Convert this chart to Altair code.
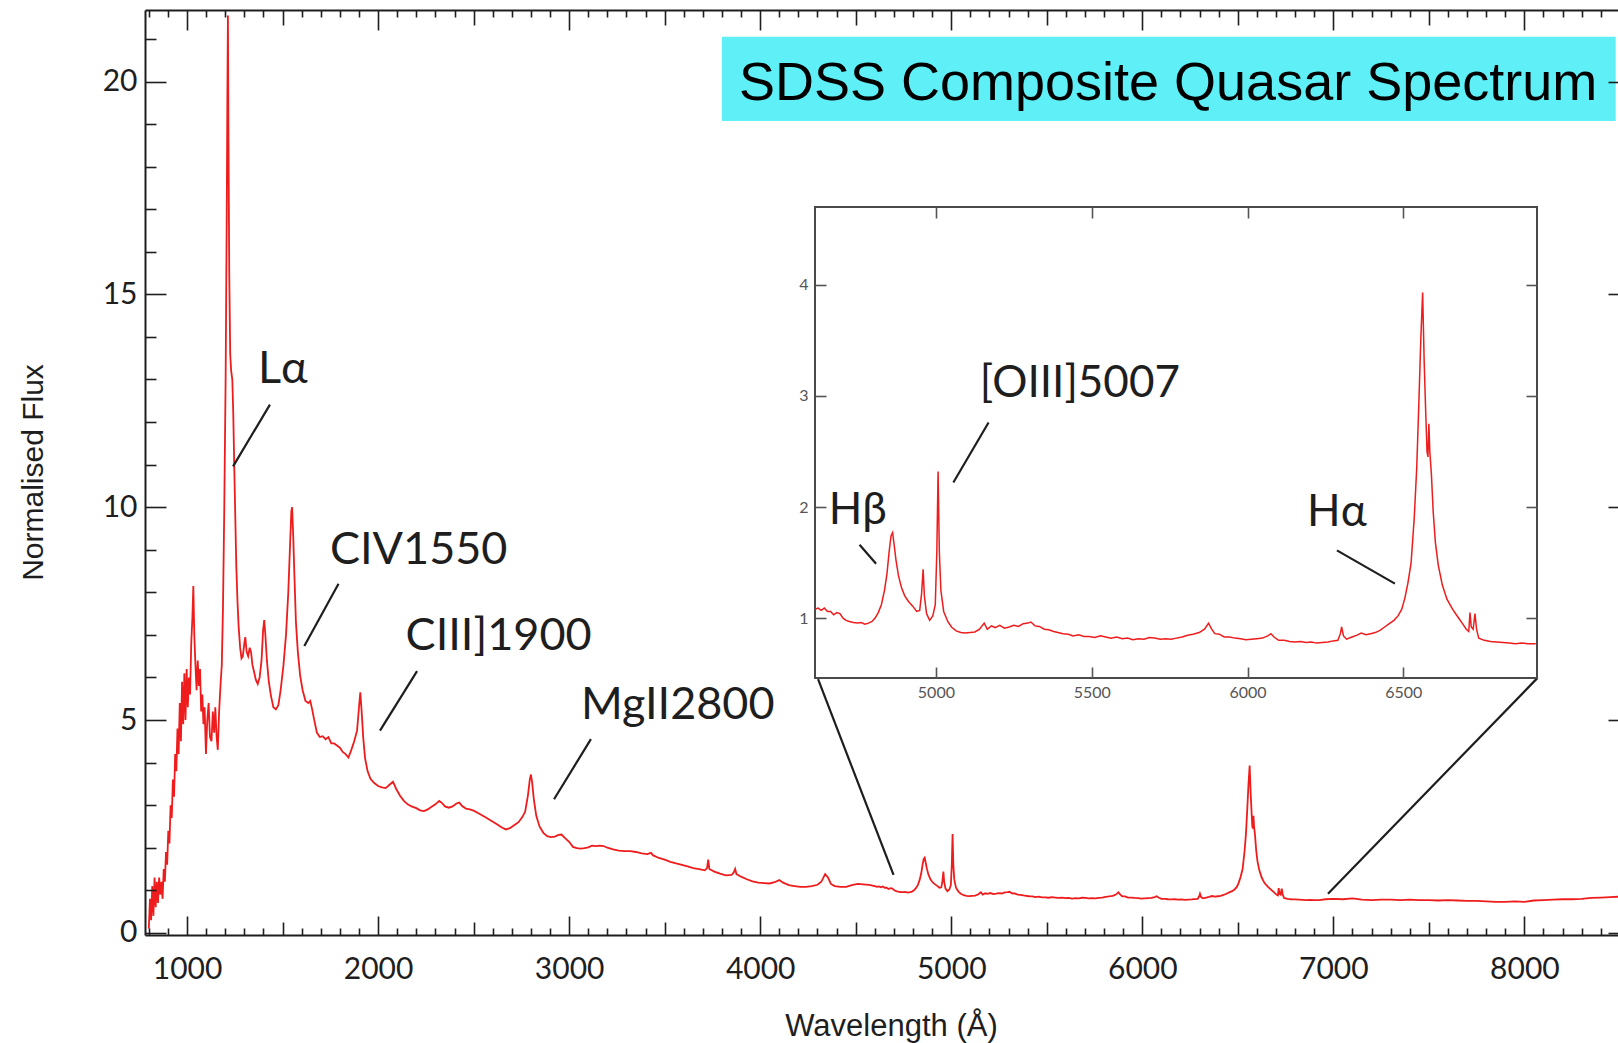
import altair as alt
import pandas as pd

# ---------------------------------------------------------------------------
# Composite quasar spectrum: rest wavelength (Angstrom) and normalised flux
# ---------------------------------------------------------------------------
uv_wavelength = [
    800, 806, 812, 818, 824, 830, 836, 842, 848, 854,
    860, 866, 872, 878, 884, 890, 896, 902, 908, 914,
    920, 926, 932, 938, 944, 950, 956, 962, 968, 974,
    980, 986, 992, 998, 1004, 1010, 1016, 1022, 1028, 1033,
    1038, 1044, 1050, 1056, 1062, 1068, 1074, 1080, 1086, 1092,
    1099, 1106, 1113, 1120, 1128, 1135, 1142, 1148, 1155, 1161,
    1168, 1175, 1182, 1188, 1195,
]
uv_flux = [
    0.1, 0.8, 0.3, 1.1, 0.4, 1.3, 0.6, 1.2, 0.7, 1.3,
    0.9, 1.2, 0.8, 1.5, 1.2, 1.9, 1.6, 2.4, 2.1, 3.0,
    2.7, 3.6, 3.2, 4.2, 3.8, 4.8, 4.2, 5.4, 4.5, 5.9,
    4.9, 6.1, 5.0, 6.2, 5.3, 6.0, 5.6, 6.8, 7.4, 8.15,
    7.0, 6.3, 5.7, 6.4, 5.8, 6.2, 5.2, 5.6, 4.9, 5.3,
    4.2, 5.0, 5.4, 4.6, 4.5, 5.2, 4.7, 5.3, 4.6, 4.3,
    5.2, 5.8, 6.3, 7.6, 10.0,
]

lya_wavelength = [
    1202, 1208, 1211, 1214, 1217, 1221, 1226, 1231, 1237, 1242,
    1247, 1252, 1258, 1264, 1270, 1278, 1285, 1292, 1300, 1305,
    1312, 1320, 1328, 1335, 1342, 1350, 1360, 1370, 1380, 1390,
    1398, 1404, 1410, 1418, 1428, 1440, 1452, 1465, 1478, 1490,
    1505, 1518, 1530, 1540, 1546, 1550, 1556, 1562, 1570, 1580,
    1592, 1605, 1620, 1635, 1645, 1655, 1668, 1680, 1695, 1710,
    1725, 1740, 1755, 1770, 1785, 1800, 1815, 1830, 1845, 1860,
    1875, 1890, 1900, 1907, 1914, 1922, 1932, 1945, 1960, 1980,
]
lya_flux = [
    13.0, 17.0, 19.5, 21.55, 18.6, 15.5, 13.6, 13.2, 13.0, 12.2,
    11.0, 9.9, 8.6, 7.8, 7.2, 6.7, 6.45, 6.5, 6.8, 6.95,
    6.6, 6.5, 6.7, 6.6, 6.3, 6.15, 5.95, 5.85, 6.0, 6.4,
    7.1, 7.35, 7.0, 6.4, 5.9, 5.55, 5.3, 5.25, 5.35, 5.7,
    6.3, 7.0, 8.0, 9.2, 9.9, 10.0, 9.3, 8.4, 7.3, 6.6,
    6.05, 5.7, 5.45, 5.4, 5.45, 5.25, 4.95, 4.7, 4.6, 4.62,
    4.55, 4.6, 4.45, 4.45, 4.4, 4.35, 4.25, 4.2, 4.12, 4.3,
    4.5, 4.75, 5.3, 5.65, 5.2, 4.6, 4.1, 3.8, 3.62, 3.52,
]

nuv_wavelength = [
    2000, 2020, 2040, 2060, 2078, 2095, 2115, 2135, 2155, 2175,
    2200, 2220, 2240, 2260, 2280, 2300, 2320, 2335, 2350, 2370,
    2390, 2410, 2425, 2440, 2460, 2480, 2500, 2530, 2560, 2590,
    2620, 2650, 2670, 2690, 2710, 2735, 2755, 2770, 2785, 2794,
    2800, 2806, 2815, 2828, 2845, 2865, 2885, 2905, 2925, 2945,
    2960, 2980, 3000, 3020, 3040, 3060, 3080, 3100, 3120, 3140,
    3160, 3180, 3200, 3230, 3260, 3290, 3320, 3350, 3380, 3410,
    3428, 3440, 3470, 3500, 3530, 3560, 3590, 3620, 3650, 3680,
    3710, 3722, 3728, 3734, 3760, 3790, 3820, 3850, 3862, 3869,
    3876, 3900, 3930, 3960, 3990, 4020, 4050, 4075, 4100, 4120,
    4150, 4180, 4210, 4240, 4270, 4300, 4320, 4340, 4355, 4370,
    4390, 4420, 4450, 4480, 4510, 4540, 4570, 4600,
]
nuv_flux = [
    3.45, 3.42, 3.4, 3.48, 3.55, 3.38, 3.22, 3.1, 3.02, 2.97,
    2.93, 2.88, 2.86, 2.9, 2.96, 3.02, 3.1, 3.05, 2.97, 2.94,
    2.97, 3.04, 3.06, 2.98, 2.92, 2.9, 2.87, 2.8, 2.72, 2.64,
    2.56, 2.47, 2.43, 2.46, 2.52, 2.6, 2.72, 2.85, 3.25, 3.6,
    3.72, 3.55, 3.15, 2.75, 2.5, 2.35, 2.27, 2.25, 2.26, 2.3,
    2.31, 2.22, 2.14, 2.02, 1.99, 1.98, 1.99, 2.01, 2.05, 2.04,
    2.05, 2.04, 2.0, 1.96, 1.93, 1.92, 1.92, 1.9, 1.87, 1.85,
    1.88, 1.82, 1.76, 1.72, 1.67, 1.63, 1.6, 1.56, 1.52, 1.5,
    1.47, 1.52, 1.72, 1.5, 1.44, 1.39, 1.35, 1.36, 1.42, 1.5,
    1.38, 1.32, 1.26, 1.21, 1.18, 1.17, 1.16, 1.19, 1.24, 1.18,
    1.12, 1.1, 1.08, 1.08, 1.1, 1.13, 1.2, 1.38, 1.3, 1.15,
    1.1, 1.08, 1.08, 1.12, 1.15, 1.14, 1.13, 1.1,
]

optical_wavelength = [
    4612, 4622, 4632, 4642, 4652, 4662, 4672, 4682, 4692, 4702,
    4712, 4722, 4735, 4748, 4760, 4772, 4784, 4795, 4805, 4815,
    4825, 4835, 4843, 4850, 4856, 4861, 4866, 4872, 4880, 4890,
    4900, 4912, 4925, 4938, 4948, 4954, 4959, 4963, 4970, 4980,
    4990, 4998, 5003, 5007, 5011, 5016, 5025, 5038, 5050, 5065,
    5080, 5095, 5110, 5125, 5140, 5155, 5165, 5178, 5190, 5205,
    5220, 5235, 5250, 5265, 5280, 5295, 5305, 5318, 5332, 5348,
    5362, 5378, 5392, 5408, 5425, 5440, 5458, 5475, 5492, 5510,
    5528, 5545, 5562, 5580, 5598, 5615, 5632, 5650, 5668, 5685,
    5702, 5720, 5738, 5755, 5772, 5790, 5808, 5825, 5845, 5862,
    5875, 5885, 5895, 5910, 5925, 5942, 5960, 5978, 5995, 6012,
    6030, 6048, 6065, 6075, 6085, 6100, 6118, 6135, 6152, 6170,
    6188, 6205, 6222, 6240, 6258, 6275, 6290, 6298, 6302, 6308,
    6318, 6335, 6350, 6365, 6380, 6395, 6410, 6425, 6440, 6455,
    6470, 6483, 6495, 6505, 6515, 6525, 6535, 6543, 6550, 6556,
    6562, 6567, 6572, 6576, 6579, 6582, 6585, 6590, 6596, 6603,
    6612, 6625, 6640, 6658, 6675, 6690, 6702, 6710, 6714, 6718,
    6724, 6730, 6735, 6742, 6760, 6780, 6800, 6820, 6840, 6860,
    6880, 6900, 6925,
]
optical_flux = [
    1.08, 1.09, 1.07, 1.09, 1.06, 1.06, 1.03, 1.05, 1.04, 1.0,
    0.98, 0.97, 0.96, 0.955, 0.96, 0.945, 0.955, 0.97, 1.0, 1.05,
    1.12, 1.25, 1.4, 1.6, 1.74, 1.77, 1.66, 1.52, 1.38, 1.27,
    1.2, 1.15, 1.11, 1.06, 1.07, 1.22, 1.44, 1.2, 1.04, 0.98,
    1.02, 1.12, 1.6, 2.32, 1.6, 1.25, 1.06, 0.97, 0.92, 0.885,
    0.87, 0.865, 0.87, 0.875, 0.9, 0.955, 0.9, 0.93, 0.915, 0.935,
    0.91, 0.92, 0.935, 0.925, 0.95, 0.955, 0.965, 0.93, 0.925, 0.9,
    0.895, 0.88, 0.87, 0.86, 0.855, 0.84, 0.85, 0.835, 0.835, 0.825,
    0.84, 0.83, 0.82, 0.83, 0.815, 0.82, 0.805, 0.815, 0.81, 0.825,
    0.82, 0.81, 0.815, 0.81, 0.82, 0.83, 0.845, 0.855, 0.87, 0.9,
    0.955, 0.9, 0.86, 0.855, 0.83, 0.83, 0.82, 0.815, 0.805, 0.81,
    0.815, 0.82, 0.84, 0.86, 0.83, 0.8, 0.8, 0.79, 0.785, 0.79,
    0.78, 0.785, 0.775, 0.78, 0.785, 0.795, 0.8, 0.86, 0.92, 0.84,
    0.81, 0.83, 0.845, 0.865, 0.85, 0.86, 0.87, 0.89, 0.92, 0.95,
    0.98, 1.02, 1.08, 1.18, 1.32, 1.5, 1.9, 2.35, 2.95, 3.5,
    3.93, 3.3, 2.84, 2.5, 2.45, 2.75, 2.5, 2.3, 1.95, 1.68,
    1.48, 1.3, 1.17, 1.08, 1.01, 0.95, 0.9, 0.88, 1.05, 0.92,
    0.9, 1.04, 0.9, 0.82, 0.8, 0.79, 0.785, 0.78, 0.775, 0.77,
    0.775, 0.77, 0.77,
]

red_wavelength = [
    6960, 7000, 7050, 7100, 7150, 7200, 7250, 7300, 7350, 7400,
    7450, 7500, 7550, 7600, 7650, 7700, 7750, 7800, 7850, 7900,
    7950, 8000, 8050, 8100, 8150, 8200, 8250, 8300, 8350, 8400,
    8450, 8500,
]
red_flux = [
    0.79, 0.8, 0.79, 0.81, 0.78, 0.77, 0.78, 0.78, 0.77, 0.78,
    0.77, 0.77, 0.76, 0.77, 0.76, 0.75, 0.75, 0.74, 0.73, 0.73,
    0.74, 0.73, 0.76, 0.77, 0.78, 0.79, 0.79, 0.8, 0.82, 0.83,
    0.84, 0.85,
]

# Emission-line labels on the full spectrum (text anchor + leader line ends)
main_line_names = ["L\u03b1", "CIV1550", "CIII]1900", "MgII2800"]
main_label_wl = [1371, 1748, 2144, 3062]
main_label_flux = [12.92, 8.67, 6.65, 5.02]
main_leader_wl = [1434, 1793, 2204, 3114]
main_leader_flux = [12.41, 8.20, 6.15, 4.55]
main_leader_wl2 = [1241, 1614, 2010, 2921]
main_leader_flux2 = [10.96, 6.74, 4.75, 3.14]

# Emission-line labels inside the zoomed panel
inset_line_names = ["[OIII]5007", "H\u03b2", "H\u03b1"]
inset_label_wl = [5141, 4656, 6191]
inset_label_flux = [2.99, 1.85, 1.83]
inset_leader_wl = [5169, 4755, 6287]
inset_leader_flux = [2.76, 1.66, 1.61]
inset_leader_wl2 = [5056, 4808, 6473]
inset_leader_flux2 = [2.22, 1.49, 1.31]

# Lines joining the zoomed panel to the stretch of spectrum it magnifies
connector_wl = [4303, 8069]
connector_flux = [5.96, 5.99]
connector_wl2 = [4698, 6972]
connector_flux2 = [1.36, 0.92]

headline = "SDSS Composite Quasar Spectrum"
headline_box_wl = [3800, 8478]
headline_box_flux = [19.07, 21.05]
headline_wl = 6135
headline_flux = 19.57

# Axis tick values
major_x = list(range(1000, 8001, 1000))
mid_x = list(range(1500, 8001, 1000))
minor_x = [v for v in range(800, 8491, 100) if v % 500 != 0]
major_y = [0, 5, 10, 15, 20]
minor_y = [v for v in range(1, 22) if v % 5 != 0]
inset_x_ticks = [5000, 5500, 6000, 6500]
inset_y_ticks = [1, 2, 3, 4]

# ---------------------------------------------------------------------------
# Layout and style
# ---------------------------------------------------------------------------
W, H = 1473, 925
PAD = {"left": 145, "top": 10, "right": 0, "bottom": 108}
X_DOMAIN = [780, 8490]
Y_DOMAIN = [-0.05, 21.68]
INSET_X = [4612, 6929]
INSET_Y = [0.461, 4.70]
INSET_LEFT, INSET_RIGHT = 670, 1392
INSET_TOP, INSET_BOTTOM = 197, 668

RED = "#ee1c1c"
INK = "#1e1e1e"
GREY = "#555555"
CYAN = "#5ff0f7"
LABEL_FONT = "Lato"
TITLE_FONT = "Liberation Sans"

spec = pd.DataFrame({
    "wl": uv_wavelength + lya_wavelength + nuv_wavelength + optical_wavelength + red_wavelength,
    "flux": uv_flux + lya_flux + nuv_flux + optical_flux + red_flux,
})
zoom = spec[(spec.wl >= INSET_X[0]) & (spec.wl <= INSET_X[1])]


def main_x(axis=None):
    return alt.X("wl:Q", scale=alt.Scale(domain=X_DOMAIN, nice=False, zero=False), axis=axis)


def main_y(axis=None):
    return alt.Y("flux:Q", scale=alt.Scale(domain=Y_DOMAIN, nice=False, zero=False), axis=axis)


def zoom_x(axis=None):
    return alt.X("wl:Q", scale=alt.Scale(domain=INSET_X, range=[INSET_LEFT, INSET_RIGHT],
                                         nice=False, zero=False), axis=axis)


def zoom_y(axis=None):
    return alt.Y("flux:Q", scale=alt.Scale(domain=INSET_Y, range=[INSET_BOTTOM, INSET_TOP],
                                           nice=False, zero=False), axis=axis)


def tick_axis(orient, values, size, offset, color=INK, domain=False):
    kw = dict(orient=orient, values=values, tickSize=size, offset=offset, labels=False,
              ticks=True, tickColor=color, tickWidth=1.6, domain=domain, grid=False,
              title=None, zindex=1)
    if domain:
        kw.update(domainColor=color, domainWidth=2)
    return alt.Axis(**kw)


# Main axes carrying the labels and titles
x_label_axis = alt.Axis(
    orient="bottom", values=major_x, format="d", ticks=False, tickSize=0, labelPadding=19,
    labelFont=LABEL_FONT, labelFontSize=30, labelColor=INK,
    domain=True, domainColor=INK, domainWidth=2, grid=False, zindex=1,
    title="Wavelength (\u00c5)", titleFont=TITLE_FONT, titleFontSize=31,
    titleFontWeight="normal", titleColor=INK, titleX=746, titleY=100,
    titleAlign="center", titleBaseline="alphabetic", titleAngle=0,
)
y_label_axis = alt.Axis(
    orient="left", values=major_y, format="d", ticks=False, tickSize=0, labelPadding=8,
    labelFont=LABEL_FONT, labelFontSize=30, labelColor=INK,
    domain=True, domainColor=INK, domainWidth=2, grid=False, zindex=1,
    title="Normalised Flux", titleFont=TITLE_FONT, titleFontSize=30,
    titleFontWeight="normal", titleColor=INK, titleX=-103, titleY=462,
    titleAlign="center", titleBaseline="alphabetic", titleAngle=270,
)

spectrum = alt.Chart(spec).mark_line(color=RED, strokeWidth=1.8, clip=True).encode(
    x=main_x(x_label_axis), y=main_y(y_label_axis)
)

# Headline placard
box_df = pd.DataFrame({"wl": [headline_box_wl[0]], "wl2": [headline_box_wl[1]],
                       "flux": [headline_box_flux[0]], "flux2": [headline_box_flux[1]]})
headline_box = alt.Chart(box_df).mark_rect(color=CYAN).encode(
    x=main_x(), x2="wl2:Q", y=main_y(), y2="flux2:Q"
)
headline_df = pd.DataFrame({"wl": [headline_wl], "flux": [headline_flux], "text": [headline]})
headline_text = alt.Chart(headline_df).mark_text(
    font=TITLE_FONT, fontSize=54, color="black", align="center", baseline="alphabetic"
).encode(x=main_x(), y=main_y(), text="text:N")

# Line identifications on the full spectrum
main_labels_df = pd.DataFrame({"wl": main_label_wl, "flux": main_label_flux, "name": main_line_names})
main_labels = alt.Chart(main_labels_df).mark_text(
    font=LABEL_FONT, fontSize=45, color=INK, align="left", baseline="alphabetic"
).encode(x=main_x(), y=main_y(), text="name:N")
main_leaders_df = pd.DataFrame({"wl": main_leader_wl, "flux": main_leader_flux,
                                "wl2": main_leader_wl2, "flux2": main_leader_flux2})
main_leaders = alt.Chart(main_leaders_df).mark_rule(color=INK, strokeWidth=2.2).encode(
    x=main_x(), y=main_y(), x2="wl2:Q", y2="flux2:Q"
)
connectors_df = pd.DataFrame({"wl": connector_wl, "flux": connector_flux,
                              "wl2": connector_wl2, "flux2": connector_flux2})
connectors = alt.Chart(connectors_df).mark_rule(color=INK, strokeWidth=2.2).encode(
    x=main_x(), y=main_y(), x2="wl2:Q", y2="flux2:Q"
)

# Zoomed panel
frame_df = pd.DataFrame({"wl": [INSET_X[0]], "wl2": [INSET_X[1]],
                         "flux": [INSET_Y[0]], "flux2": [INSET_Y[1]]})
zoom_frame = alt.Chart(frame_df).mark_rect(fill="white", stroke="#4a4a4a", strokeWidth=2).encode(
    x=zoom_x(), x2="wl2:Q", y=zoom_y(), y2="flux2:Q"
)
zoom_x_label_axis = alt.Axis(
    orient="bottom", offset=INSET_BOTTOM - H, values=inset_x_ticks, format="d",
    ticks=False, tickSize=0, domain=False, labelFont=LABEL_FONT, labelFontSize=16,
    labelColor=GREY, labelPadding=6, labelFlush=False, grid=False, title=None, zindex=1,
)
zoom_y_label_axis = alt.Axis(
    orient="left", offset=-INSET_LEFT, values=inset_y_ticks, format="d",
    ticks=False, tickSize=0, domain=False, labelFont=LABEL_FONT, labelFontSize=16,
    labelColor=GREY, labelPadding=7, grid=False, title=None, zindex=1,
)
zoom_line = alt.Chart(zoom).mark_line(color=RED, strokeWidth=1.5, clip=True).encode(
    x=zoom_x(zoom_x_label_axis), y=zoom_y(zoom_y_label_axis)
)
zoom_labels_df = pd.DataFrame({"wl": inset_label_wl, "flux": inset_label_flux, "name": inset_line_names})
zoom_labels = alt.Chart(zoom_labels_df).mark_text(
    font=LABEL_FONT, fontSize=44, color=INK, align="left", baseline="alphabetic"
).encode(x=zoom_x(), y=zoom_y(), text="name:N")
zoom_leaders_df = pd.DataFrame({"wl": inset_leader_wl, "flux": inset_leader_flux,
                                "wl2": inset_leader_wl2, "flux2": inset_leader_flux2})
zoom_leaders = alt.Chart(zoom_leaders_df).mark_rule(color=INK, strokeWidth=2.2).encode(
    x=zoom_x(), y=zoom_y(), x2="wl2:Q", y2="flux2:Q"
)

# Invisible layers that only carry the extra tick axes (inward-pointing ticks)
main_anchor = spec.head(1)
zoom_anchor = zoom.head(1)


def main_axis_layer(x_axis, y_axis=None):
    return alt.Chart(main_anchor).mark_point(opacity=0).encode(x=main_x(x_axis), y=main_y(y_axis))


def zoom_axis_layer(x_axis, y_axis):
    return alt.Chart(zoom_anchor).mark_point(opacity=0).encode(x=zoom_x(x_axis), y=zoom_y(y_axis))


axis_layers = [
    # bottom edge, ticks pointing up; left edge, ticks pointing right
    main_axis_layer(tick_axis("top", major_x, 19, -H), tick_axis("right", major_y, 21, -W)),
    main_axis_layer(tick_axis("top", mid_x, 13, -H), tick_axis("right", minor_y, 11, -W)),
    # right edge ticks pointing left
    main_axis_layer(tick_axis("top", minor_x, 7, -H), tick_axis("left", major_y, 10, -W)),
    # top edge (frame line), ticks pointing down
    main_axis_layer(tick_axis("bottom", major_x, 20, -H, domain=True)),
    main_axis_layer(tick_axis("bottom", mid_x, 15, -H)),
    main_axis_layer(tick_axis("bottom", minor_x, 7, -H)),
    # zoomed panel ticks on all four sides
    zoom_axis_layer(tick_axis("top", inset_x_ticks, 11, -INSET_BOTTOM, GREY),
                    tick_axis("right", inset_y_ticks, 11, INSET_LEFT - W, GREY)),
    zoom_axis_layer(tick_axis("bottom", inset_x_ticks, 11, INSET_TOP - H, GREY),
                    tick_axis("left", inset_y_ticks, 11, -INSET_RIGHT, GREY)),
]

chart = alt.layer(
    spectrum, headline_box, headline_text, main_leaders, main_labels, connectors,
    zoom_frame, zoom_line, zoom_leaders, zoom_labels, *axis_layers,
).resolve_scale(
    x="independent", y="independent"
).properties(
    width=W, height=H, padding=PAD,
    autosize=alt.AutoSizeParams(type="none"),
    background="white",
).configure_view(stroke=None)

chart.save("out.html", embed_options={"renderer": "svg", "actions": False})
